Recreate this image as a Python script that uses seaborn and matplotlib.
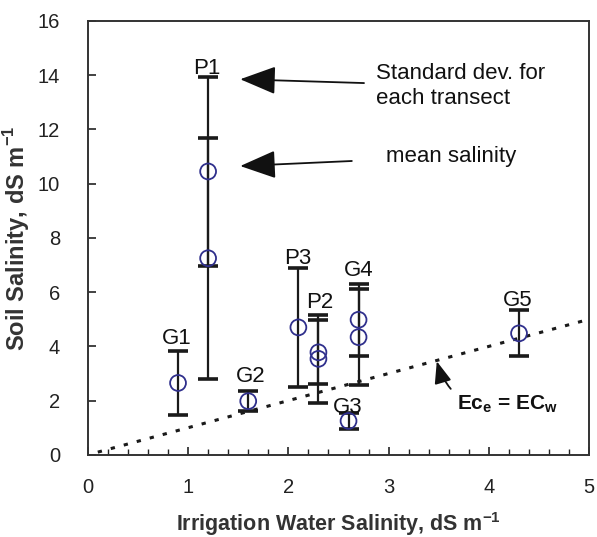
import matplotlib
matplotlib.use("Agg")
import matplotlib.pyplot as plt
from matplotlib.ticker import MultipleLocator
import seaborn as sns
import numpy as np
import pandas as pd

sns.set_style("white")
plt.rcParams['font.family'] = ['Liberation Sans', 'DejaVu Sans']
plt.rcParams['mathtext.fontset'] = 'custom'
plt.rcParams['mathtext.rm'] = 'Liberation Sans'
plt.rcParams['mathtext.bf'] = 'Liberation Sans:bold'
plt.rcParams['ytick.major.pad'] = 20
plt.rcParams['xtick.major.pad'] = 17

# transect means and standard deviations
sites = ['G1', 'P1', 'P1', 'G2', 'P3', 'P2', 'P2', 'G3', 'G4', 'G4', 'G5']
water_ec = [0.9, 1.2, 1.2, 1.6, 2.1, 2.3, 2.3, 2.6, 2.7, 2.7, 4.3]
soil_mean = [2.65, 10.45, 7.25, 1.98, 4.7, 3.78, 3.54, 1.25, 4.98, 4.34, 4.48]
soil_sd = [1.17, 3.5, 4.45, 0.38, 2.2, 1.18, 1.62, 0.28, 1.32, 1.78, 0.85]

# site labels (text placement)
label_names = ['G1', 'P1', 'G2', 'P3', 'P2', 'G3', 'G4', 'G5']
label_x = [0.89, 1.19, 1.62, 2.09, 2.31, 2.59, 2.70, 4.29]
label_y = [4.3, 14.25, 2.88, 7.25, 5.6, 1.75, 6.8, 5.7]

# 1:1 line
line_x = [0.1, 5.0]
line_y = [0.1, 5.0]

df = pd.DataFrame({'Site': sites, 'ECw': water_ec, 'Mean': soil_mean, 'SD': soil_sd})

fig = plt.figure(figsize=(5.97, 5.37), dpi=100)
ax = fig.add_axes([0.147, 0.153, 0.840, 0.808])

ax.errorbar(df['ECw'], df['Mean'], yerr=df['SD'], fmt='none', ecolor='#1a1a1a',
            elinewidth=1.6, capsize=7, capthick=2.6, zorder=2)
sns.scatterplot(data=df, x='ECw', y='Mean', ax=ax, marker='o', s=130,
                facecolors='none', edgecolor='#2f2f8c', linewidth=1.3, zorder=3)
sns.lineplot(x=line_x, y=line_y, ax=ax, color='#1a1a1a', linewidth=2.2,
             linestyle=(0, (1.4, 3.0)), zorder=1)

for name, lx, ly in zip(label_names, label_x, label_y):
    ax.text(lx, ly, name, ha='center', va='center', fontsize=16, color='#111111', zorder=4)

arrow_kw = dict(arrowstyle='-|>,head_length=1.4,head_width=0.55', color='#111111', lw=1.3)
ax.annotate('Standard dev. for\neach transect', xy=(1.52, 13.85), xytext=(2.87, 13.6),
            fontsize=16, color='#111111', ha='left', va='center', linespacing=1.25,
            arrowprops=dict(**arrow_kw, shrinkA=6, shrinkB=0))
ax.annotate('mean salinity', xy=(1.52, 10.65), xytext=(2.97, 11.0),
            fontsize=16, color='#111111', ha='left', va='center',
            arrowprops=dict(**arrow_kw, shrinkA=22, shrinkB=0))
ax.annotate(r'Ec$_\mathbf{e}$ = EC$_\mathbf{w}$', xy=(3.48, 3.45), xytext=(3.68, 1.85),
            fontsize=15, fontweight='bold', color='#111111', ha='left', va='center',
            arrowprops=dict(arrowstyle='-|>,head_length=0.9,head_width=0.35', color='#111111',
                            lw=1.3, connectionstyle='arc3,rad=-0.45', shrinkA=3, shrinkB=0))

ax.set_xlim(0, 5)
ax.set_ylim(0, 16)
ax.xaxis.set_major_locator(MultipleLocator(1))
ax.xaxis.set_minor_locator(MultipleLocator(0.2))
ax.yaxis.set_major_locator(MultipleLocator(2))
ax.tick_params(axis='both', which='major', direction='in', length=6, width=1.2,
               labelsize=14.5, colors='#222222', bottom=True, left=True)
ax.tick_params(axis='x', which='minor', direction='in', length=4, width=1.0,
               bottom=True, colors='#222222')

for sp in ax.spines.values():
    sp.set_color('#333333')
    sp.set_linewidth(1.4)

ax.set_xlabel(r'Irrigation Water Salinity, dS m$^{\mathbf{-1}}$', fontsize=15.5,
              fontweight='bold', color='#333333')
ax.set_ylabel(r'Soil Salinity, dS m$^{\mathbf{-1}}$', fontsize=17,
              fontweight='bold', color='#333333')
ax.xaxis.set_label_coords(0.5, -0.128)
ax.yaxis.set_label_coords(-0.112, 0.5)

fig.savefig('out.png', dpi=100, facecolor='white')
